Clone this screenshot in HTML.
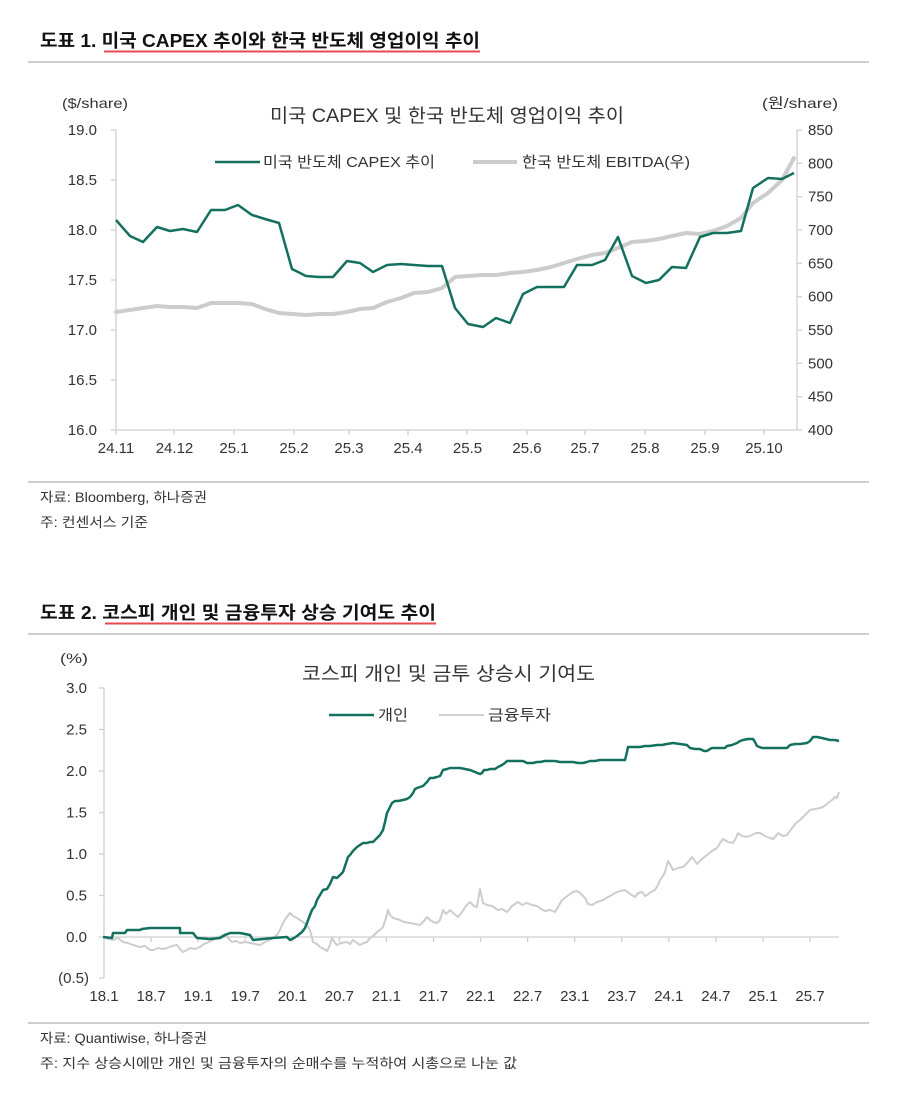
<!DOCTYPE html>
<html><head><meta charset="utf-8"><style>
html,body{margin:0;padding:0;background:#fff;}
svg{display:block;}
text{font-family:"Liberation Sans","Noto Sans CJK KR",sans-serif;fill:#333;}
.t{font-weight:bold;fill:#111;font-size:18px;}
.ax{font-size:15px;fill:#3a3a3a;}
.ft{font-size:13.5px;fill:#333;}
</style></head><body>
<svg width="900" height="1105" viewBox="0 0 900 1105" xmlns="http://www.w3.org/2000/svg">
<rect width="900" height="1105" fill="#fff"/>

<!-- ===== Chart 1 header ===== -->
<text class="t" x="40" y="47" textLength="440" lengthAdjust="spacingAndGlyphs">도표 1. 미국 CAPEX 추이와 한국 반도체 영업이익 추이</text>
<line x1="104" y1="51.5" x2="480" y2="51.5" stroke="#e8484f" stroke-width="2"/>
<line x1="28" y1="62" x2="869" y2="62" stroke="#bdbdbd" stroke-width="1.5"/>

<text x="62" y="108" font-size="14" textLength="66" lengthAdjust="spacingAndGlyphs">($/share)</text>
<text x="762" y="108" font-size="14" textLength="76" lengthAdjust="spacingAndGlyphs">(원/share)</text>
<text x="270" y="122" font-size="19" textLength="354" lengthAdjust="spacingAndGlyphs">미국 CAPEX 및 한국 반도체 영업이익 추이</text>

<!-- legend -->
<line x1="215" y1="162" x2="260" y2="162" stroke="#13705e" stroke-width="2.5"/>
<text x="263" y="167" font-size="15" textLength="172" lengthAdjust="spacingAndGlyphs">미국 반도체 CAPEX 추이</text>
<line x1="473" y1="162" x2="517" y2="162" stroke="#cccccc" stroke-width="4"/>
<text x="522" y="167" font-size="15" textLength="168" lengthAdjust="spacingAndGlyphs">한국 반도체 EBITDA(우)</text>

<!-- axes -->
<g stroke="#cfcfcf" stroke-width="1.3" fill="none">
<line x1="116" y1="130" x2="116" y2="430"/>
<line x1="797" y1="130" x2="797" y2="430"/>
<line x1="116" y1="430" x2="797" y2="430"/>
<!-- left ticks -->
<line x1="111" y1="130" x2="116" y2="130"/><line x1="111" y1="180" x2="116" y2="180"/>
<line x1="111" y1="230" x2="116" y2="230"/><line x1="111" y1="280" x2="116" y2="280"/>
<line x1="111" y1="330" x2="116" y2="330"/><line x1="111" y1="380" x2="116" y2="380"/>
<line x1="111" y1="430" x2="116" y2="430"/>
<!-- right ticks -->
<line x1="797" y1="130" x2="802" y2="130"/><line x1="797" y1="163.3" x2="802" y2="163.3"/>
<line x1="797" y1="196.7" x2="802" y2="196.7"/><line x1="797" y1="230" x2="802" y2="230"/>
<line x1="797" y1="263.3" x2="802" y2="263.3"/><line x1="797" y1="296.7" x2="802" y2="296.7"/>
<line x1="797" y1="330" x2="802" y2="330"/><line x1="797" y1="363.3" x2="802" y2="363.3"/>
<line x1="797" y1="396.7" x2="802" y2="396.7"/><line x1="797" y1="430" x2="802" y2="430"/>
<!-- x ticks -->
<line x1="116" y1="430" x2="116" y2="435"/><line x1="174" y1="430" x2="174" y2="435"/>
<line x1="234" y1="430" x2="234" y2="435"/><line x1="294" y1="430" x2="294" y2="435"/>
<line x1="349" y1="430" x2="349" y2="435"/><line x1="408" y1="430" x2="408" y2="435"/>
<line x1="467" y1="430" x2="467" y2="435"/><line x1="527" y1="430" x2="527" y2="435"/>
<line x1="585" y1="430" x2="585" y2="435"/><line x1="645" y1="430" x2="645" y2="435"/>
<line x1="705" y1="430" x2="705" y2="435"/><line x1="764" y1="430" x2="764" y2="435"/>
</g>

<g class="ax" text-anchor="end">
<text x="97" y="135">19.0</text><text x="97" y="185">18.5</text><text x="97" y="235">18.0</text>
<text x="97" y="285">17.5</text><text x="97" y="335">17.0</text><text x="97" y="385">16.5</text>
<text x="97" y="435">16.0</text>
</g>
<g class="ax">
<text x="808" y="135">850</text><text x="808" y="168.3">800</text><text x="808" y="201.7">750</text>
<text x="808" y="235">700</text><text x="808" y="268.3">650</text><text x="808" y="301.7">600</text>
<text x="808" y="335">550</text><text x="808" y="368.3">500</text><text x="808" y="401.7">450</text>
<text x="808" y="435">400</text>
</g>
<g class="ax" text-anchor="middle">
<text x="116" y="453">24.11</text><text x="174.5" y="453">24.12</text><text x="234" y="453">25.1</text>
<text x="294" y="453">25.2</text><text x="349" y="453">25.3</text><text x="408" y="453">25.4</text>
<text x="467.5" y="453">25.5</text><text x="527" y="453">25.6</text><text x="585" y="453">25.7</text>
<text x="645" y="453">25.8</text><text x="705" y="453">25.9</text><text x="764" y="453">25.10</text>
</g>

<!-- series -->
<polyline fill="none" stroke="#cccccc" stroke-width="4" stroke-linejoin="round" stroke-linecap="round"
points="116,312 130,310 143,308 157,306 170,307 183,307 197,308 211,303 225,303 238,303 252,304 265,309 279,313 292,314 306,315 319,314 333,314 347,312 360,309 373,308 387,302 401,298 414,293 428,292 442,288 455,277 468,276 483,275 496,275 510,273 523,272 537,270 551,267 564,263 577,259 592,255 605,253 618,248 632,242 646,241 659,239 672,236 686,233 700,234 713,231 727,226 741,218 753,203 768,193 782,180 794,158"/>
<polyline fill="none" stroke="#13705e" stroke-width="2.5" stroke-linejoin="round"
points="116,220 130,236 143,242 157,227 170,231 183,229 197,232 211,210 225,210 238,205 252,215 265,219 279,223 292,269 306,276 319,277 333,277 347,261 360,263 373,272 387,265 401,264 414,265 428,266 442,266 455,308 468,324 483,327 496,318 510,323 523,294 537,287 551,287 564,287 577,265 592,265 605,260 618,237 632,276 646,283 659,280 672,267 686,268 700,237 713,233 727,233 741,231 753,188 768,178 782,179 794,173"/>

<!-- footer 1 -->
<line x1="28" y1="482" x2="869" y2="482" stroke="#bdbdbd" stroke-width="1.5"/>
<text class="ft" x="40" y="502" textLength="167" lengthAdjust="spacingAndGlyphs">자료: Bloomberg, 하나증권</text>
<text class="ft" x="40" y="527" textLength="108" lengthAdjust="spacingAndGlyphs">주: 컨센서스 기준</text>

<!-- ===== Chart 2 header ===== -->
<text class="t" x="40" y="619" textLength="396" lengthAdjust="spacingAndGlyphs">도표 2. 코스피 개인 및 금융투자 상승 기여도 추이</text>
<line x1="105" y1="623.5" x2="436" y2="623.5" stroke="#e8484f" stroke-width="2"/>
<line x1="28" y1="634" x2="869" y2="634" stroke="#bdbdbd" stroke-width="1.5"/>

<text x="60" y="663" font-size="14" textLength="28" lengthAdjust="spacingAndGlyphs">(%)</text>
<text x="302" y="680" font-size="19" textLength="293" lengthAdjust="spacingAndGlyphs">코스피 개인 및 금투 상승시 기여도</text>

<line x1="329" y1="715" x2="374" y2="715" stroke="#13705e" stroke-width="2.5"/>
<text x="378" y="720" font-size="15" textLength="30" lengthAdjust="spacingAndGlyphs">개인</text>
<line x1="439" y1="715" x2="484" y2="715" stroke="#cfcfcf" stroke-width="2"/>
<text x="488" y="720" font-size="15" textLength="63" lengthAdjust="spacingAndGlyphs">금융투자</text>

<g stroke="#cfcfcf" stroke-width="1.3" fill="none">
<line x1="104" y1="688" x2="104" y2="978"/>
<line x1="104" y1="937" x2="839" y2="937"/>
<line x1="99" y1="688" x2="104" y2="688"/><line x1="99" y1="729.5" x2="104" y2="729.5"/>
<line x1="99" y1="771" x2="104" y2="771"/><line x1="99" y1="812.5" x2="104" y2="812.5"/>
<line x1="99" y1="854" x2="104" y2="854"/><line x1="99" y1="895.5" x2="104" y2="895.5"/>
<line x1="99" y1="937" x2="104" y2="937"/><line x1="99" y1="978" x2="104" y2="978"/>
<line x1="151.1" y1="937" x2="151.1" y2="942"/><line x1="198.1" y1="937" x2="198.1" y2="942"/>
<line x1="245.2" y1="937" x2="245.2" y2="942"/><line x1="292.3" y1="937" x2="292.3" y2="942"/>
<line x1="339.4" y1="937" x2="339.4" y2="942"/><line x1="386.4" y1="937" x2="386.4" y2="942"/>
<line x1="433.5" y1="937" x2="433.5" y2="942"/><line x1="480.6" y1="937" x2="480.6" y2="942"/>
<line x1="527.6" y1="937" x2="527.6" y2="942"/><line x1="574.7" y1="937" x2="574.7" y2="942"/>
<line x1="621.8" y1="937" x2="621.8" y2="942"/><line x1="668.8" y1="937" x2="668.8" y2="942"/>
<line x1="715.9" y1="937" x2="715.9" y2="942"/><line x1="763" y1="937" x2="763" y2="942"/>
<line x1="810" y1="937" x2="810" y2="942"/>
</g>

<g class="ax" text-anchor="end">
<text x="87" y="693">3.0</text><text x="87" y="734.5">2.5</text><text x="87" y="776">2.0</text>
<text x="87" y="817.5">1.5</text><text x="87" y="859">1.0</text><text x="87" y="900.5">0.5</text>
<text x="87" y="942">0.0</text><text x="89" y="983">(0.5)</text>
</g>
<g class="ax" text-anchor="middle">
<text x="104" y="1001">18.1</text><text x="151.1" y="1001">18.7</text><text x="198.1" y="1001">19.1</text>
<text x="245.2" y="1001">19.7</text><text x="292.3" y="1001">20.1</text><text x="339.4" y="1001">20.7</text>
<text x="386.4" y="1001">21.1</text><text x="433.5" y="1001">21.7</text><text x="480.6" y="1001">22.1</text>
<text x="527.6" y="1001">22.7</text><text x="574.7" y="1001">23.1</text><text x="621.8" y="1001">23.7</text>
<text x="668.8" y="1001">24.1</text><text x="715.9" y="1001">24.7</text><text x="763" y="1001">25.1</text>
<text x="810" y="1001">25.7</text>
</g>

<polyline fill="none" stroke="#cdcdcd" stroke-width="2" stroke-linejoin="round"
points="103,937 108,939 113,940 118,938 123,942 128,943 133,945 140,947 145,946 150,950 153,950 158,948 163,949 167,948 172,946 177,945 180,949 183,952 187,950 190,948 195,949 200,947 204,944 207,943 210,941 213,940 218,937 222,936 225,934 228,938 232,942 236,941 240,943 245,942 250,943 255,944 260,945 265,942 270,940 274,937 277,935 280,930 283,923 286,918 290,913 293,916 297,918 300,920 303,922 307,925 310,930 313,942 317,944 320,947 324,949 327,951 330,945 332,938 335,943 337,945 341,943 347,942 350,944 353,940 357,943 360,945 364,943 367,942 370,938 372,937 375,934 377,932 380,930 383,927 386,918 388,910 390,915 393,918 397,919 400,920 404,922 410,923 415,924 420,925 424,921 427,917 430,920 433,922 437,923 440,920 443,910 446,914 450,910 453,913 458,917 462,912 466,906 470,902 474,906 477,907 480,889 483,903 487,905 492,906 498,910 502,909 507,912 512,906 518,902 522,905 527,903 532,905 537,906 541,909 545,911 550,910 555,912 558,907 562,900 566,897 570,894 573,892 577,891 580,893 585,898 588,904 592,905 597,902 603,900 608,897 612,895 615,893 620,891 625,890 630,894 635,897 638,893 642,892 645,896 647,895 651,892 655,890 658,885 660,880 663,876 665,872 668,861 671,866 673,870 678,868 683,867 688,862 692,857 695,861 697,864 702,859 707,855 712,851 717,848 720,843 723,839 728,842 733,843 736,838 738,833 742,836 747,837 752,835 756,833 760,833 765,836 770,838 773,839 776,836 778,833 783,836 787,835 792,828 796,823 800,820 805,815 810,810 815,809 820,808 823,807 828,803 832,800 835,797 837,798 839,792"/>
<polyline fill="none" stroke="#13705e" stroke-width="2.5" stroke-linejoin="round"
points="103,937 112,938 113,933 125,933 127,930 140,930 142,929 150,928 180,928 180,933 193,933 197,938 210,939 220,938 225,935 230,933 240,933 250,935 253,940 263,939 273,938 287,937 290,940 294,938 297,936 302,932 305,928 307,923 310,915 312,910 315,906 317,900 320,895 323,890 327,889 330,884 333,877 337,878 340,875 343,872 345,866 347,860 348,857 350,855 353,851 357,847 360,845 363,843 367,843 370,842 373,842 377,838 380,835 383,830 385,822 387,813 390,807 392,803 395,801 398,801 403,800 407,799 410,797 413,793 415,789 417,788 420,787 423,786 427,782 430,778 433,778 437,777 440,776 443,770 447,769 450,768 453,768 460,768 465,769 470,770 475,772 480,774 482,773 484,770 487,770 490,769 495,769 498,767 502,765 505,763 507,761 515,761 523,761 525,762 527,763 533,763 537,762 540,762 545,761 550,761 555,761 560,762 567,762 573,762 578,763 583,763 587,762 590,761 595,761 600,760 607,760 615,760 620,760 625,760 627,752 628,747 635,747 640,747 645,746 650,746 657,745 662,745 667,744 673,743 680,744 687,745 690,748 695,749 700,749 704,751 707,751 710,749 712,748 718,748 725,748 727,746 732,745 737,743 740,741 743,740 748,739 753,739 755,742 757,746 762,748 770,748 780,748 787,748 790,745 795,744 800,744 807,743 810,741 813,737 817,737 822,738 826,739 830,740 835,740 839,741"/>

<!-- footer 2 -->
<line x1="28" y1="1023" x2="869" y2="1023" stroke="#bdbdbd" stroke-width="1.5"/>
<text class="ft" x="40" y="1043" textLength="167" lengthAdjust="spacingAndGlyphs">자료: Quantiwise, 하나증권</text>
<text class="ft" x="40" y="1068" textLength="477" lengthAdjust="spacingAndGlyphs">주: 지수 상승시에만 개인 및 금융투자의 순매수를 누적하여 시총으로 나눈 값</text>
</svg>
</body></html>
